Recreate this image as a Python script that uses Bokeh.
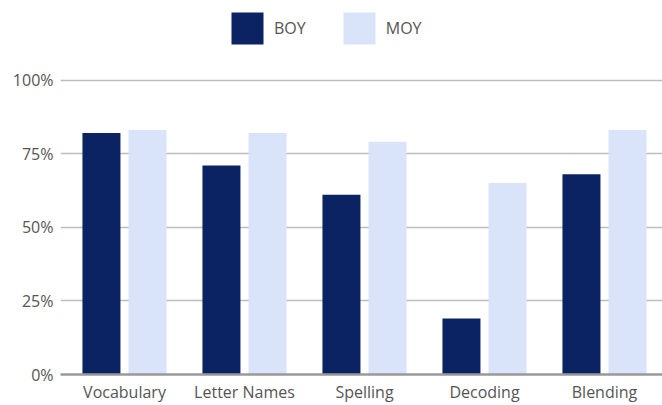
from bokeh.plotting import figure
from bokeh.models import (ColumnDataSource, Range1d, FixedTicker, PrintfTickFormatter,
                          Legend, LegendItem)
from bokeh.transform import dodge
from bokeh.embed import file_html
from bokeh.resources import INLINE

categories = ["Vocabulary", "Letter Names", "Spelling", "Decoding", "Blending"]
boy = [82, 71, 61, 19, 68]
moy = [83, 82, 79, 65, 83]
y_ticks = [0, 25, 50, 75, 100]

FONT = "Open Sans"
NAVY = "#0b2362"
LIGHT = "#d9e4fb"

pos = [i + 0.5 for i in range(len(categories))]
src = ColumnDataSource(dict(x=pos, boy=boy, moy=moy))

p = figure(width=662, height=405, output_backend="svg", toolbar_location=None,
           x_range=Range1d(-0.0333, 4.9833), y_range=Range1d(0, 127.0),
           min_border_left=60, min_border_right=0, min_border_top=0, min_border_bottom=29)
p.outline_line_color = None
p.background_fill_color = "white"
p.border_fill_color = "white"

r1 = p.vbar(x=dodge("x", -0.192, range=p.x_range), top="boy", width=0.3167, source=src,
            color=NAVY, line_color=None)
r2 = p.vbar(x=dodge("x", 0.192, range=p.x_range), top="moy", width=0.3167, source=src,
            color=LIGHT, line_color=None)

p.xgrid.grid_line_color = None
p.ygrid.ticker = FixedTicker(ticks=y_ticks)
p.ygrid.grid_line_color = "#bdbdbd"
p.ygrid.grid_line_width = 1.5

p.yaxis.ticker = FixedTicker(ticks=y_ticks)
p.yaxis.formatter = PrintfTickFormatter(format="%d%%")
p.yaxis.axis_line_color = None
p.yaxis.major_tick_line_color = None
p.yaxis.minor_tick_line_color = None
p.yaxis.major_tick_out = 0
p.yaxis.major_tick_in = 0
p.yaxis.minor_tick_out = 0
p.yaxis.major_label_standoff = 7
p.yaxis.major_label_text_font = FONT
p.yaxis.major_label_text_font_size = "16px"
p.yaxis.major_label_text_color = "#555555"

p.xaxis.ticker = FixedTicker(ticks=pos)
p.xaxis.major_label_overrides = {pv: c for pv, c in zip(pos, categories)}
p.xaxis.axis_line_color = "#999999"
p.xaxis.axis_line_width = 2.5
p.xaxis.major_tick_line_color = None
p.xaxis.minor_tick_line_color = None
p.xaxis.major_tick_out = 0
p.xaxis.major_tick_in = 0
p.xaxis.minor_tick_out = 0
p.xaxis.major_label_standoff = 6
p.xaxis.major_label_text_font = FONT
p.xaxis.major_label_text_font_size = "16px"
p.xaxis.major_label_text_color = "#555555"

legend = Legend(items=[LegendItem(label="BOY", renderers=[r1]),
                       LegendItem(label="MOY", renderers=[r2])],
                orientation="horizontal", location=(167, 326),
                glyph_width=40, glyph_height=40, label_text_font=FONT,
                label_text_font_size="16px", label_text_color="#555555",
                label_standoff=7, spacing=33, border_line_color=None,
                background_fill_alpha=0, margin=0, padding=1)
p.add_layout(legend, "center")

open("out.html", "w").write(file_html(p, INLINE))
